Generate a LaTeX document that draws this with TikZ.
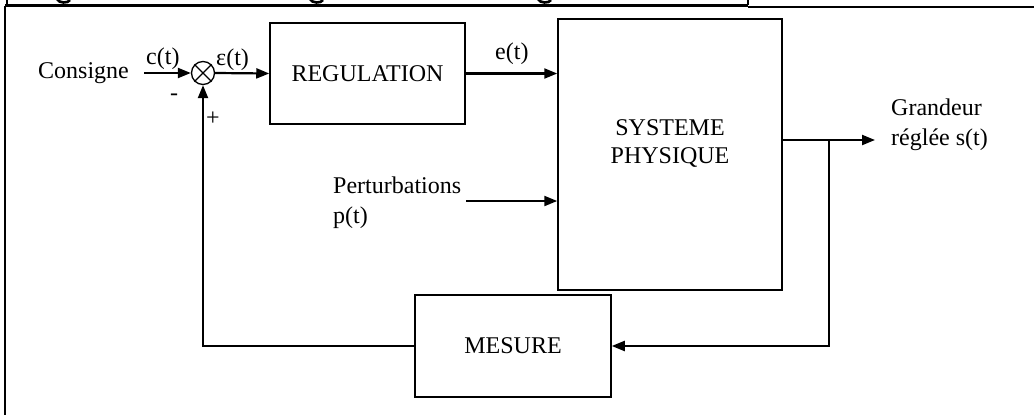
\documentclass[tikz,border=0pt]{standalone}
\usepackage{fontspec}
\setmainfont{Liberation Serif}
\usetikzlibrary{arrows.meta}
\begin{document}
\begin{tikzpicture}[x=1pt,y=-1pt,
  font=\fontsize{24}{28}\selectfont,
  blk/.style={draw, line width=1.5pt, inner sep=0pt},
  lbl/.style={inner sep=0pt},
  conn/.style={line width=2.2pt, -{Triangle[length=13pt,width=10pt]}},
  frameline/.style={line width=2pt}]
\useasboundingbox (0,0) rectangle (1034,415);

% page frame and the cut title bar above it
\draw[line width=3.2pt] (5,5.8) -- (748,5.8);
\draw[line width=1.6pt] (748,7) -- (1034,7);
\draw[line width=1.4pt] (7,0) -- (7,5);
\draw[line width=1.4pt] (748,0) -- (748,5);
\draw[frameline] (5,6) -- (5,415);
% descenders of the clipped title letters
\draw[line width=2.6pt] (57,-1) .. controls (59,3.5) and (68,3.5) .. (70,0);
\draw[line width=2.6pt] (310,-1) .. controls (312,3.5) and (321,3.5) .. (323,0);
\draw[line width=2.6pt] (538,-1) .. controls (540,3.5) and (549,3.5) .. (551,0);

% blocks
\node[blk, minimum width=195pt, minimum height=101pt] (reg) at (367.5,73.5) {REGULATION};
\node[blk, minimum width=224pt, minimum height=271pt] (sys) at (670,154.5) {};
\node[lbl, align=center] (systxt) at (670,143) {SYSTEME\\PHYSIQUE};
\node[blk, minimum width=196pt, minimum height=102pt] (mes) at (513,346) {MESURE};

% summing point
\node[draw, circle, line width=1.3pt, minimum size=23pt, inner sep=0pt] (sum) at (203,73) {};
\draw[line width=1.3pt] (sum.north west) -- (sum.south east);
\draw[line width=1.3pt] (sum.north east) -- (sum.south west);

% texts
\node[lbl, anchor=base west] (cons) at (38,78) {Consigne};
\node[lbl, anchor=base west] (ct) at (146,64) {c(t)};
\node[lbl, anchor=base west] (eps) at (216,65) {ε(t)};
\node[lbl] (minus) at (174,97) {-};
\node[lbl] (plus) at (213,119) {+};
\node[lbl, anchor=base west] (et) at (495,59) {e(t)};
\node[lbl, anchor=base west] (pert) at (333,193) {Perturbations};
\node[lbl, anchor=base west] (pt) at (333,223) {p(t)};
\node[lbl, anchor=base west] (gr1) at (891,115) {Grandeur};
\node[lbl, anchor=base west] (gr2) at (891,145) {réglée s(t)};

% connectors
\coordinate (cin) at (144,73);
\coordinate (pin) at (466,201);
\coordinate (outtip) at (875,140);
\coordinate (br) at (829,140);
\draw[conn] (cin) -- (sum.west);
\draw[conn] (sum.east) -- (reg.west);
\draw[conn] (reg.east) -- (reg.east -| sys.west);
\draw[conn] (pin) -- (pin -| sys.west);
\draw[conn] (sys.east |- outtip) -- (outtip);
\draw[conn] (br) |- (mes.east);
\draw[conn] (mes.west) -| (sum.south);
\end{tikzpicture}
\end{document}
